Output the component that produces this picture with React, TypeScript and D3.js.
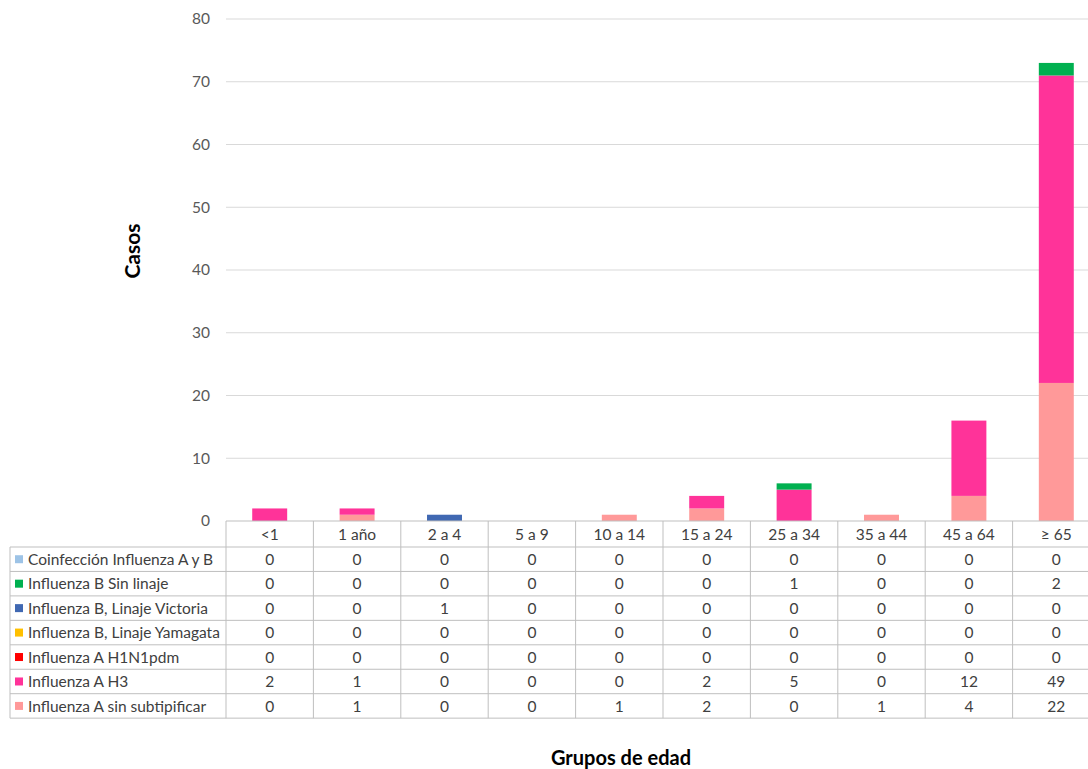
import React from "react";
import * as d3 from "d3";

const categories = ["<1", "1 año", "2 a 4", "5 a 9", "10 a 14", "15 a 24", "25 a 34", "35 a 44", "45 a 64", "≥ 65"];

// Series in table order (top to bottom)
const seriesNames = [
  "Coinfección Influenza A y B",
  "Influenza B Sin linaje",
  "Influenza B, Linaje Victoria",
  "Influenza B, Linaje Yamagata",
  "Influenza A H1N1pdm",
  "Influenza A H3",
  "Influenza A sin subtipificar",
];
const seriesColors = ["#9dc3e6", "#00b050", "#4068b2", "#ffc000", "#ff0000", "#ff3399", "#ff9999"];

const coinfeccion = [0, 0, 0, 0, 0, 0, 0, 0, 0, 0];
const bSinLinaje = [0, 0, 0, 0, 0, 0, 1, 0, 0, 2];
const bVictoria = [0, 0, 1, 0, 0, 0, 0, 0, 0, 0];
const bYamagata = [0, 0, 0, 0, 0, 0, 0, 0, 0, 0];
const aH1N1pdm = [0, 0, 0, 0, 0, 0, 0, 0, 0, 0];
const aH3 = [2, 1, 0, 0, 0, 2, 5, 0, 12, 49];
const aSinSubtipificar = [0, 1, 0, 0, 1, 2, 0, 1, 4, 22];

const seriesValues = [coinfeccion, bSinLinaje, bVictoria, bYamagata, aH1N1pdm, aH3, aSinSubtipificar];
const yTicks = [0, 10, 20, 30, 40, 50, 60, 70, 80];

const W = 1088;
const H = 769;
const plotLeft = 226;
const colW = 87.4;
const plotRight = plotLeft + colW * categories.length;
const yTop = 19;
const yBottom = 521;
const headerH = 26;
const rowH = 24.45;
const legendLeft = 10;
const FONT = "Lato, 'Noto Sans', sans-serif";
const FS = 15.5;

export default function App() {
  const x = d3.scaleBand<string>().domain(categories).range([plotLeft, plotRight]).paddingInner(0.6).paddingOuter(0.3);
  const y = d3.scaleLinear().domain([0, 80]).range([yBottom, yTop]);

  // stack from bottom: reverse of table order
  const stackKeys = seriesNames.map((_, i) => i).reverse();
  const rows = categories.map((c, ci) => {
    const o: Record<string, number | string> = { cat: c };
    seriesNames.forEach((_, si) => (o["s" + si] = seriesValues[si][ci]));
    return o;
  });
  const stacked = d3.stack<any>().keys(stackKeys.map((i) => "s" + i))(rows as any);

  const colX = (i: number) => plotLeft + colW * i;
  const tableTop = yBottom + headerH;

  return (
    <div>
      <style>{`body{margin:0;}`}</style>
      <svg width={W} height={H} style={{ display: "block", fontFamily: FONT }}>
        <rect width={W} height={H} fill="#fff" />
        {/* gridlines */}
        {yTicks.map((t) => (
          <g key={t}>
            {t !== 0 && <line x1={plotLeft} x2={plotRight} y1={y(t)} y2={y(t)} stroke="#d9d9d9" strokeWidth={1} />}
            <text x={210} y={y(t)} dy="0.35em" textAnchor="end" fontSize={FS} fill="#595959">
              {t}
            </text>
          </g>
        ))}
        {/* bars */}
        {stacked.map((layer) => {
          const si = Number(String(layer.key).slice(1));
          return (
            <g key={layer.key} fill={seriesColors[si]}>
              {layer.map((d, ci) =>
                d[1] - d[0] > 0 ? (
                  <rect
                    key={ci}
                    x={x(categories[ci])}
                    width={x.bandwidth()}
                    y={y(d[1])}
                    height={y(d[0]) - y(d[1])}
                  />
                ) : null
              )}
            </g>
          );
        })}
        {/* table */}
        <g stroke="#bfbfbf" strokeWidth={1} fill="none">
          <line x1={plotLeft} x2={plotRight} y1={yBottom} y2={yBottom} />
          {d3.range(seriesNames.length + 1).map((r) => (
            <line key={r} x1={legendLeft} x2={plotRight} y1={tableTop + r * rowH} y2={tableTop + r * rowH} />
          ))}
          <line x1={legendLeft} x2={legendLeft} y1={tableTop} y2={tableTop + seriesNames.length * rowH} />
          {d3.range(categories.length + 1).map((i) => (
            <line key={i} x1={colX(i)} x2={colX(i)} y1={yBottom} y2={tableTop + seriesNames.length * rowH} />
          ))}
        </g>
        {categories.map((c, i) => (
          <text key={c} x={colX(i) + colW / 2} y={yBottom + headerH / 2} dy="0.36em" textAnchor="middle" fontSize={FS} fill="#404040">
            {c}
          </text>
        ))}
        {seriesNames.map((name, si) => {
          const ry = tableTop + si * rowH;
          return (
            <g key={name}>
              <rect x={15} y={ry + rowH / 2 - 4} width={8} height={8} fill={seriesColors[si]} />
              <text x={28} y={ry + rowH / 2} dy="0.36em" fontSize={FS} fill="#404040">
                {name}
              </text>
              {seriesValues[si].map((v, ci) => (
                <text key={ci} x={colX(ci) + colW / 2} y={ry + rowH / 2} dy="0.36em" textAnchor="middle" fontSize={FS} fill="#404040">
                  {v}
                </text>
              ))}
            </g>
          );
        })}
        {/* axis titles */}
        <text transform={`translate(140,251) rotate(-90)`} textAnchor="middle" fontSize={21} fontWeight="bold" fill="#000">
          Casos
        </text>
        <text x={621} y={765} textAnchor="middle" fontSize={20} fontWeight="bold" fill="#000">
          Grupos de edad
        </text>
      </svg>
    </div>
  );
}
